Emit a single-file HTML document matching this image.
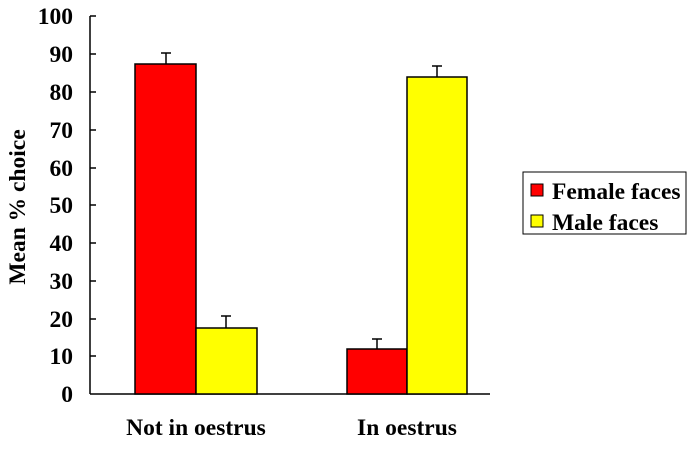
<!DOCTYPE html>
<html><head><style>body{margin:0;background:#fff}</style></head><body>
<svg width="693" height="444" xmlns="http://www.w3.org/2000/svg" font-family="Liberation Serif, serif" font-weight="bold">
<rect width="693" height="444" fill="#fff"/>
<g stroke="#000" stroke-width="1.5" fill="none">
<line x1="90" y1="16" x2="90" y2="394"/>
<line x1="90" y1="394" x2="490" y2="394"/>
<line x1="90" y1="16" x2="96" y2="16"/><line x1="90" y1="54" x2="96" y2="54"/><line x1="90" y1="92" x2="96" y2="92"/><line x1="90" y1="130" x2="96" y2="130"/><line x1="90" y1="168" x2="96" y2="168"/><line x1="90" y1="205" x2="96" y2="205"/><line x1="90" y1="243" x2="96" y2="243"/><line x1="90" y1="281" x2="96" y2="281"/><line x1="90" y1="319" x2="96" y2="319"/><line x1="90" y1="356" x2="96" y2="356"/>
<line x1="166" y1="64" x2="166" y2="53"/><line x1="161" y1="53" x2="171" y2="53"/>
<line x1="226" y1="328" x2="226" y2="316"/><line x1="221" y1="316" x2="231" y2="316"/>
<line x1="377" y1="349" x2="377" y2="339"/><line x1="372" y1="339" x2="382" y2="339"/>
<line x1="437" y1="77" x2="437" y2="66"/><line x1="432" y1="66" x2="442" y2="66"/>
</g>
<g stroke="#000" stroke-width="1.5">
<rect x="135" y="64" width="61" height="330" fill="#ff0000"/>
<rect x="196" y="328" width="61" height="66" fill="#ffff00"/>
<rect x="347" y="349" width="60" height="45" fill="#ff0000"/>
<rect x="407" y="77" width="60" height="317" fill="#ffff00"/>
</g>
<g font-size="23.5" text-anchor="end">
<text x="73" y="24">100</text><text x="73" y="62">90</text><text x="73" y="100">80</text><text x="73" y="138">70</text><text x="73" y="176">60</text><text x="73" y="213">50</text><text x="73" y="251">40</text><text x="73" y="289">30</text><text x="73" y="327">20</text><text x="73" y="364">10</text><text x="73" y="402">0</text>
</g>
<text x="196" y="435" font-size="23.5" text-anchor="middle">Not in oestrus</text>
<text x="407" y="435" font-size="23.5" text-anchor="middle">In oestrus</text>
<text transform="translate(25,207) rotate(-90)" font-size="23.5" text-anchor="middle">Mean % choice</text>
<rect x="523" y="172" width="163" height="62" fill="#fff" stroke="#000" stroke-width="1"/>
<rect x="531" y="184" width="12" height="12" fill="#ff0000" stroke="#000"/>
<rect x="531" y="215" width="12" height="12" fill="#ffff00" stroke="#000"/>
<text x="552" y="199" font-size="23.5">Female faces</text>
<text x="552" y="230" font-size="23.5">Male faces</text>
</svg>
</body></html>
